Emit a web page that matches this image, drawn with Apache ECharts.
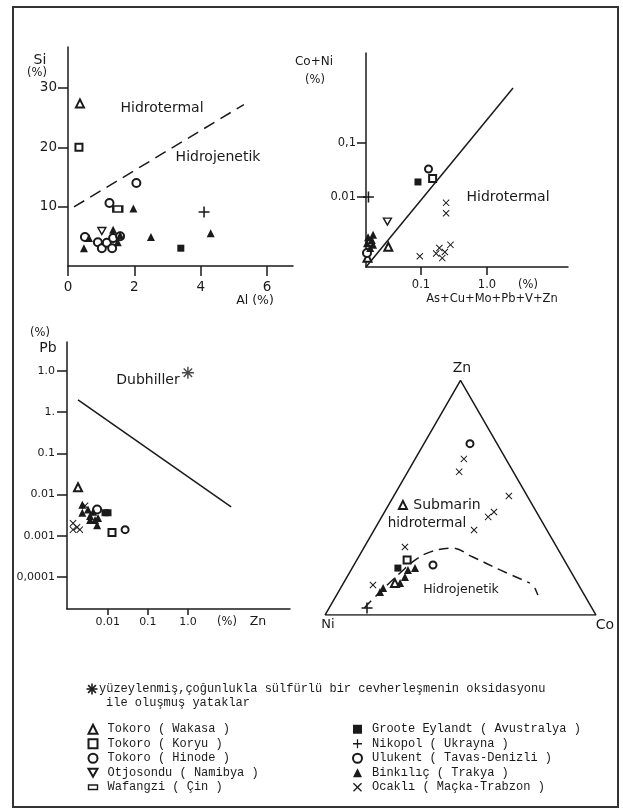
<!DOCTYPE html>
<html>
<head>
<meta charset="utf-8">
<script src="https://cdn.jsdelivr.net/npm/echarts@6/dist/echarts.min.js"></script>
<style>
  html, body { margin: 0; padding: 0; background: #fff; }
  #chart { width: 623px; height: 812px; }
</style>
</head>
<body>
<div id="chart"></div>
<script>
// yatak adlari (legend sirasi)
const sourceNames = [
  'Tokoro ( Wakasa )', 'Tokoro ( Koryu )', 'Tokoro ( Hinode )', 'Otjosondu ( Namibya )', 'Wafangzi ( Çin )',
  'Groote Eylandt ( Avustralya )', 'Nikopol ( Ukrayna )', 'Ulukent ( Tavas-Denizli )', 'Binkılıç ( Trakya )', 'Ocaklı ( Maçka-Trabzon )'
];

// Si - Al : [yatak, Al %, Si %]
const siAlPoints = [
  [0, 0.36, 27.4], [1, 0.33, 20.0], [2, 2.06, 14.0], [2, 1.25, 10.6], [4, 1.5, 9.6],
  [8, 1.97, 9.7], [6, 4.1, 9.1], [8, 4.3, 5.5], [8, 2.5, 4.9], [5, 3.4, 3.0],
  [2, 0.51, 4.9], [8, 0.63, 4.7], [8, 0.48, 3.0], [3, 1.02, 5.9], [2, 0.9, 4.0],
  [2, 1.02, 3.0], [2, 1.17, 3.9], [2, 1.33, 3.0], [2, 1.36, 4.7], [2, 1.57, 5.0],
  [8, 1.36, 6.1], [8, 1.5, 4.0], [8, 1.57, 5.2]
];
const siAlBoundary = [[0.18, 9.95], [5.3, 27.2]];
const alTicks = [0, 2, 4, 6];
const siTicks = [10, 20, 30];

// Co+Ni - As+Cu+Mo+Pb+V+Zn : [yatak, x %, y %]
const coNiPoints = [
  [5, 0.09, 0.019], [7, 0.13, 0.033], [1, 0.15, 0.022], [3, 0.031, 0.0035], [0, 0.032, 0.0012],
  [6, 0.016, 0.01],
  [9, 0.24, 0.0078], [9, 0.24, 0.005], [9, 0.096, 0.0008], [9, 0.17, 0.0009], [9, 0.19, 0.00114],
  [9, 0.21, 0.00074], [9, 0.23, 0.00096], [9, 0.28, 0.0013],
  [8, 0.0158, 0.0018], [8, 0.018, 0.0016], [8, 0.0152, 0.0014], [8, 0.0188, 0.0013], [8, 0.017, 0.00114], [8, 0.0188, 0.002],
  [2, 0.0152, 0.00092], [0, 0.0155, 0.00075]
];
const coNiBoundary = [[0.01468, 0.000506], [2.48, 1.045]];
const coNiXTicks = [0.1, 1];
const coNiXLabels = ['0.1', '1.0'];
const coNiYTicks = [0.01, 0.1];
const coNiYLabels = ['0.01', '0,1'];

// Pb - Zn : [yatak, Zn %, Pb %]
const pbZnPoints = [
  [0, 0.0018, 0.015],
  [8, 0.0023, 0.0056], [8, 0.0032, 0.0043], [8, 0.0023, 0.0036], [8, 0.0036, 0.0024], [8, 0.0048, 0.0024],
  [8, 0.0054, 0.0018], [8, 0.0036, 0.003], [8, 0.0057, 0.0027], [8, 0.0043, 0.0038],
  [9, 0.00135, 0.002], [9, 0.00135, 0.0014], [9, 0.002, 0.0014], [9, 0.0017, 0.0016], [9, 0.0027, 0.0053],
  [5, 0.0085, 0.0036], [5, 0.0101, 0.0036],
  [2, 0.0054, 0.0043], [7, 0.027, 0.0014], [1, 0.0127, 0.0012]
];
const dubhiller = [[1.0, 9]];
const pbZnBoundary = [[0.0018, 1.98], [12, 0.005]];
const znTicks = [0.01, 0.1, 1];
const znLabels = ['0.01', '0.1', '1.0'];
const pbTicks = [10, 1, 0.1, 0.01, 0.001, 0.0001];
const pbLabels = ['1.0', '1.', '0.1', '0.01', '0.001', '0,0001'];

// Zn-Co-Ni ucgeni : [yatak, Zn %, Co %]  (Ni = 100 - Zn - Co)
const ternaryPoints = [
  [7, 73, 17],
  [9, 66.5, 18], [9, 61, 19], [9, 50.7, 42.5], [9, 41.8, 39.3], [9, 43.9, 40.4], [9, 36.2, 36.9], [9, 29, 15], [9, 12.8, 11.3],
  [0, 46.9, 5.3], [1, 23.4, 18.6], [5, 20, 16.9],
  [8, 19.2, 21], [8, 20, 23.2], [8, 16.2, 21.4], [8, 13.6, 20.9], [8, 11.5, 15.7], [8, 9.8, 15.4],
  [0, 13.6, 19], [7, 21.3, 29.2], [6, 3, 14]
];
const ternaryCorners = [[0, 0], [0, 100], [100, 0], [0, 0]]; // Ni, Co, Zn
const ternaryBoundary = [[3, 13], [9.8, 15.4], [18.4, 19], [23.4, 21.5], [26.8, 25.3], [28.5, 32.6], [24.7, 42.2], [19.2, 55], [13.6, 68.8]];
const ternaryBoundaryEnd = [[11.5, 71.7], [8.5, 74.3]];

const INK = '#1a1a1a';
const SANS = 'DejaVu Sans';
const MONO = 'Liberation Mono';
const PLUS = 'path://M4.3,0H5.7V4.3H10V5.7H5.7V10H4.3V5.7H0V4.3H4.3Z';
const CROSS = 'path://M0,1L1,0L5,4L9,0L10,1L6,5L10,9L9,10L5,6L1,10L0,9L4,5Z';
const DOWN = 'path://M0,0H10L5,8.66Z';
const FLAT = 'path://M0,0M10,10M0,2.5H10V7.5H0Z';
const STAR = 'path://M4.4,0h1.2v10h-1.2z M0,4.4h10v1.2h-10z M1.1,1.9L1.9,1.1L8.9,8.1L8.1,8.9z M8.1,1.1L8.9,1.9L1.9,8.9L1.1,8.1z';
// hollow: ici beyaz, kenari siyah
const symbols = [
  { symbol: 'emptyTriangle', size: 8, hollow: true },
  { symbol: 'emptyRect', size: 7, hollow: true },
  { symbol: 'emptyCircle', size: 8, hollow: true },
  { symbol: DOWN, size: [8, 7], hollow: true },
  { symbol: 'emptyRect', size: [9, 6], hollow: true, icon: FLAT },
  { symbol: 'rect', size: 7 },
  { symbol: PLUS, size: 11 },
  { symbol: 'emptyCircle', size: 7, hollow: true },
  { symbol: 'triangle', size: 8 },
  { symbol: CROSS, size: 7 }
];

const lg = Math.log10;
const tern = (zn, co) => [(co + zn / 2) / 100, zn / 100 * Math.sqrt(3) / 2];

let myChart = echarts.init(document.getElementById('chart'));

const panels = [
  { rows: siAlPoints, map: r => [r[1], r[2]] },
  { rows: coNiPoints, map: r => [lg(r[1]), lg(r[2])] },
  { rows: pbZnPoints, map: r => [lg(r[1]), lg(r[2])] },
  { rows: ternaryPoints, map: r => tern(r[1], r[2]) }
];

let series = [];
panels.forEach((p, gi) => {
  sourceNames.forEach((name, si) => {
    const data = p.rows.filter(r => r[0] === si).map(p.map);
    if (!data.length) return;
    const s = symbols[si];
    series.push({
      name: name,
      type: 'scatter',
      xAxisIndex: gi,
      yAxisIndex: gi,
      symbol: s.symbol,
      symbolSize: s.size,
      itemStyle: s.hollow
        ? { color: s.symbol.indexOf('path') === 0 ? '#fff' : INK, borderColor: INK, borderWidth: 1.4, opacity: 1 }
        : { color: INK, borderWidth: 0, opacity: 1 },
      data: data,
      z: 5
    });
  });
});

series.push({
  name: 'Dubhiller', type: 'scatter', xAxisIndex: 2, yAxisIndex: 2,
  symbol: STAR, symbolSize: 12, itemStyle: { color: INK },
  data: dubhiller.map(d => [lg(d[0]), lg(d[1])])
});

function lineSeries(idx, data, dash, smooth) {
  return {
    type: 'line', xAxisIndex: idx, yAxisIndex: idx, data: data,
    symbol: 'none', silent: true, smooth: smooth || false,
    lineStyle: { color: INK, width: 1.5, type: dash || 'solid' }, z: 3
  };
}
series.push(lineSeries(0, siAlBoundary, [12, 7]));
series.push(lineSeries(1, coNiBoundary.map(d => [lg(d[0]), lg(d[1])])));
series.push(lineSeries(2, pbZnBoundary.map(d => [lg(d[0]), lg(d[1])])));
series.push(lineSeries(3, ternaryCorners.map(d => tern(d[0], d[1]))));
series.push(lineSeries(3, ternaryBoundary.map(d => tern(d[0], d[1])), [10, 6], 0.4));
series.push(lineSeries(3, ternaryBoundaryEnd.map(d => tern(d[0], d[1]))));

const lineStyle = { color: INK, width: 1.5 };
function axis(idx, min, max, ticks, fmt, tickLen, labelSize, margin) {
  return {
    gridIndex: idx, type: 'value', min: min, max: max,
    axisLine: { show: true, onZero: false, lineStyle: lineStyle },
    axisTick: { show: true, customValues: ticks, length: tickLen, lineStyle: lineStyle },
    axisLabel: {
      customValues: ticks, formatter: fmt, color: INK, fontFamily: SANS, fontSize: labelSize, margin: margin
    },
    splitLine: { show: false }
  };
}
function logFmt(ticks, labels) {
  return v => {
    const i = ticks.findIndex(t => Math.abs(lg(t) - v) < 1e-6);
    return i < 0 ? '' : labels[i];
  };
}

const hidden = (idx, max) => ({ gridIndex: idx, type: 'value', min: 0, max: max, show: false, splitLine: { show: false } });

let xAxes = [
  axis(0, 0, 6.78, alTicks, v => String(v), 10, 13.5, 14),
  axis(1, -1.833, 1.227, coNiXTicks.map(lg), logFmt(coNiXTicks, coNiXLabels), 8, 11.5, 12),
  axis(2, -3.02, 2.55, znTicks.map(lg), logFmt(znTicks, znLabels), 6, 11, 8),
  hidden(3, 1)
];

let yAxes = [
  axis(0, 0, 36.9, siTicks, v => String(v), 10, 13.5, 11),
  axis(1, -3.296, 0.667, coNiYTicks.map(lg), logFmt(coNiYTicks, coNiYLabels), 9, 11.5, 10),
  axis(2, -4.78, 1.70, pbTicks.map(lg), logFmt(pbTicks, pbLabels), 10, 11, 12),
  hidden(3, Math.sqrt(3) / 2)
];

function txt(text, x, y, size, opts) {
  return {
    type: 'text', x: x, y: y, silent: true,
    style: Object.assign({ text: text, fill: INK, fontFamily: SANS, fontSize: size, align: 'center', verticalAlign: 'middle' }, opts || {})
  };
}
function starGlyph(cx, cy, r) {
  const out = [];
  for (let k = 0; k < 4; k++) {
    const a = k * Math.PI / 4;
    out.push({ type: 'line', silent: true,
      shape: { x1: cx - r * Math.cos(a), y1: cy - r * Math.sin(a), x2: cx + r * Math.cos(a), y2: cy + r * Math.sin(a) },
      style: { stroke: INK, lineWidth: 1.6 } });
  }
  return out;
}

function legendItems(from, to) {
  return sourceNames.slice(from, to).map((name, k) => {
    const s = symbols[from + k];
    return s.icon
      ? { name: name, icon: s.icon, itemStyle: { color: '#fff', borderColor: INK, borderWidth: 1.4 } }
      : name;
  });
}
function legendCol(items, left, pad) {
  return {
    data: items, left: left, top: 722, height: 90, padding: 0, orient: 'vertical', itemGap: 0,
    itemWidth: 9, itemHeight: 9, selectedMode: false,
    textStyle: { fontFamily: MONO, fontSize: 12, color: INK, lineHeight: 14.5, padding: [0, 0, 0, pad] }
  };
}

let option = {
  animation: false,
  backgroundColor: '#fff',
  grid: [
    { left: 68, top: 47, width: 225, height: 219, outerBoundsMode: 'none' },
    { left: 366, top: 53, width: 202, height: 214, outerBoundsMode: 'none' },
    { left: 67, top: 342, width: 223, height: 267, outerBoundsMode: 'none' },
    { left: 325, top: 380.3, width: 271, height: 234.7, outerBoundsMode: 'none' }
  ],
  xAxis: xAxes,
  yAxis: yAxes,
  legend: [
    legendCol(legendItems(0, 5), 87.5, 5),
    legendCol(legendItems(5, 10), 352, 5)
  ],
  graphic: [
    { type: 'rect', silent: true, shape: { x: 13, y: 7, width: 605, height: 800 },
      style: { fill: 'none', stroke: '#333', lineWidth: 2 } },
    txt('Si', 40, 60, 14),
    txt('(%)', 37, 73, 11.5),
    txt('Al (%)', 255, 301, 12.5),
    txt('Hidrotermal', 162, 108, 14),
    txt('Hidrojenetik', 218, 157, 14),
    txt('Co+Ni', 314, 62, 12),
    txt('(%)', 315, 80, 11.5),
    txt('(%)', 528, 285, 11.5),
    txt('As+Cu+Mo+Pb+V+Zn', 492, 299, 11.5),
    txt('Hidrotermal', 508, 197, 14),
    txt('(%)', 40, 333, 11.5),
    txt('Pb', 48, 348, 14),
    txt('Dubhiller', 148, 380, 14),
    txt('(%)', 227, 622, 11.5),
    txt('Zn', 258, 622, 12.5),
    txt('Zn', 462, 368, 14),
    txt('Ni', 328, 625, 13),
    txt('Co', 605, 625, 14),
    txt('Submarin', 447, 505, 14),
    txt('hidrotermal', 427, 523, 13.5),
    txt('Hidrojenetik', 461, 590, 12.5),
    ...starGlyph(92, 689, 5.5),
    txt('yüzeylenmiş,çoğunlukla sülfürlü bir cevherleşmenin oksidasyonu', 99, 689, 12,
      { fontFamily: MONO, align: 'left' }),
    txt('ile oluşmuş yataklar', 106, 703, 12, { fontFamily: MONO, align: 'left' })
  ],
  series: series
};

myChart.setOption(option);

window.addEventListener('resize', function () {
  myChart.resize();
});
</script>
</body>
</html>
